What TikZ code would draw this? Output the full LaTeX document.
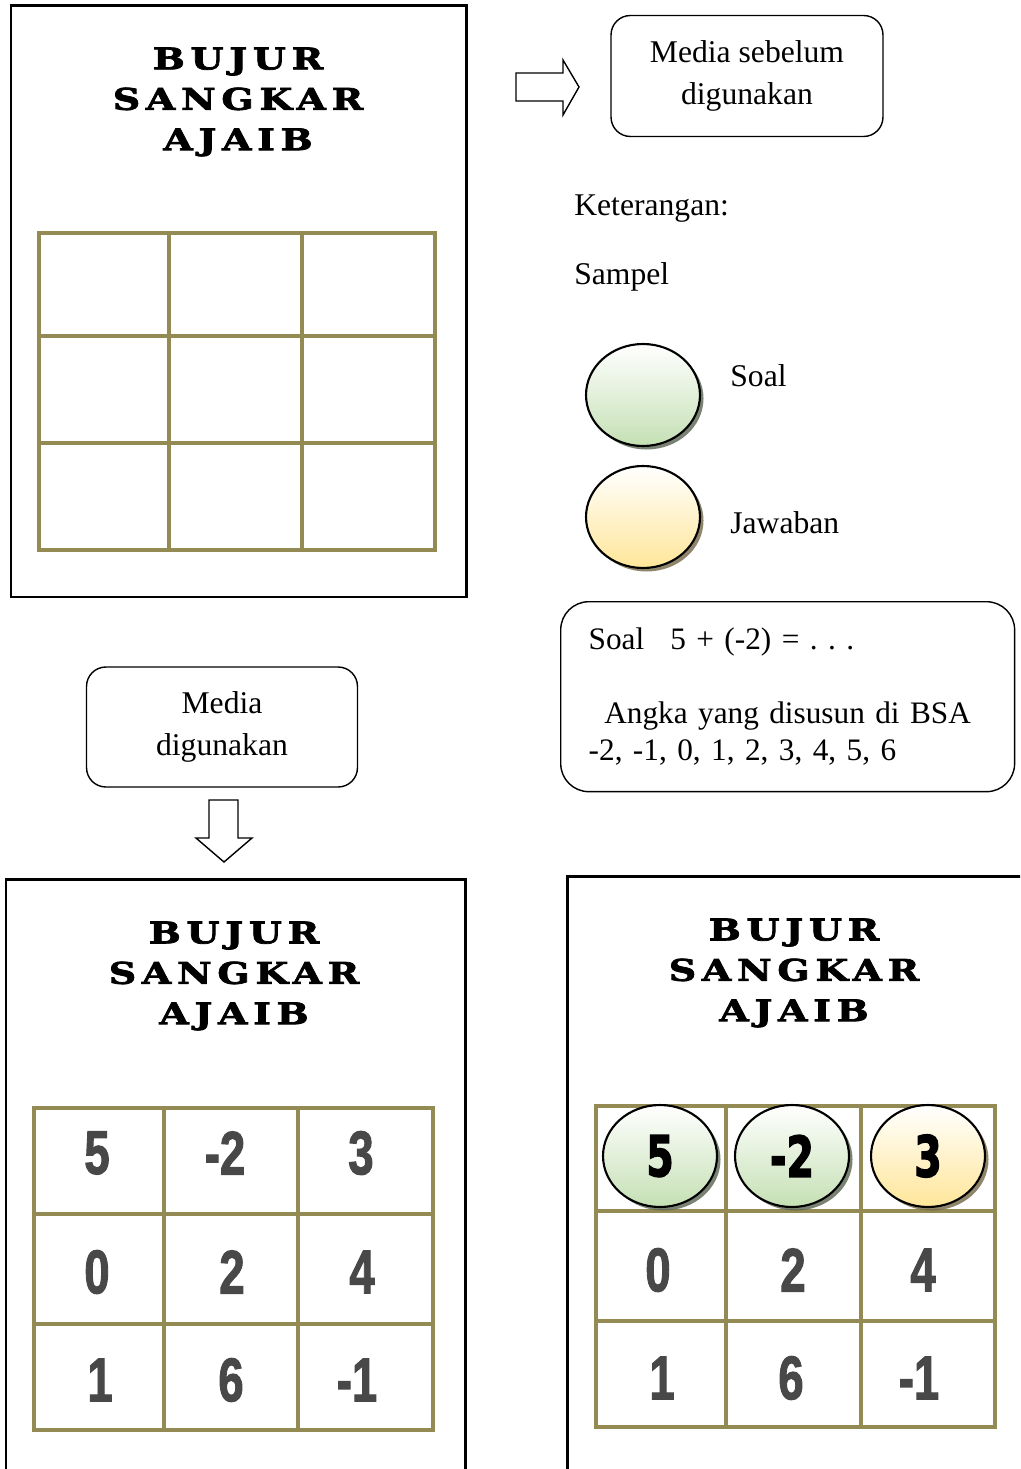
\documentclass[tikz,border=0pt]{standalone}
\usepackage{fontspec}
\usepackage{graphicx}
\setmainfont{Liberation Serif}
\newfontfamily\titlefont[LetterSpace=19, FakeStretch=1.27, FakeBold=2.5]{DejaVu Serif}
\newfontfamily\numfont[FakeBold=2]{Liberation Sans}
\newfontfamily\ballfont[FakeBold=3]{DejaVu Sans}
\usetikzlibrary{shapes.geometric,shadows}

\definecolor{gridolive}{RGB}{148,138,84}
\definecolor{soalgreen}{RGB}{197,224,180}
\definecolor{jawabyellow}{RGB}{255,230,153}
\definecolor{numgray}{RGB}{72,72,72}

\newcommand{\cellnum}[1]{\scalebox{0.74}[1]{#1}}
\newcommand{\ballnum}[1]{\scalebox{0.7}[1]{#1}}

\tikzset{
  frame/.style={line width=1.7pt},
  gridline/.style={draw=gridolive, line width=2.6pt},
  infobox/.style={draw, line width=0.8pt, rounded corners=11pt, align=center,
    font=\fontsize{18}{24}\selectfont},
  label/.style={anchor=base west, inner xsep=0pt, font=\fontsize{18}{21}\selectfont},
  bsatitle/.style={align=center, font=\titlefont\bfseries\fontsize{17}{23}\selectfont},
  num/.style={inner sep=0pt, text=numgray, font=\numfont\bfseries\fontsize{35}{35}\selectfont},
  ball/.style={ellipse, draw, line width=1.2pt, inner sep=0pt,
    minimum width=2.28cm, minimum height=2.04cm,
    font=\ballfont\bfseries\fontsize{32}{32}\selectfont},
  soalball/.style={ball, top color=white, bottom color=soalgreen,
    drop shadow={shadow xshift=2pt, shadow yshift=-2pt, opacity=.8, fill=soalgreen!45!black}},
  jawabball/.style={ball, top color=white, bottom color=jawabyellow,
    drop shadow={shadow xshift=2pt, shadow yshift=-2pt, opacity=.8, fill=jawabyellow!45!black}},
  blockarrow/.style={draw, line width=0.8pt, fill=white}
}

\begin{document}
\begin{tikzpicture}[x=0.02cm, y=-0.02cm]
  \clip (0,0) rectangle (1020,1469);
  \fill[white] (0,0) rectangle (1020,1469);

  % media sebelum digunakan
  \draw[frame] (11,6) rectangle (466,597);
  \node[bsatitle] (title1) at (238,102) {BUJUR\\SANGKAR\\AJAIB};
  \draw[gridline] (39,233) rectangle (435,550);
  \draw[gridline] (169,233) -- (169,550) (302,233) -- (302,550);
  \draw[gridline] (39,336) -- (435,336) (39,443) -- (435,443);

  \draw[blockarrow] (516,73) -- (563,73) -- (563,60) -- (579,87) -- (563,115)
    -- (563,101) -- (516,101) -- cycle;
  \node[infobox, minimum width=5.44cm, minimum height=2.42cm] (before) at (747,76)
    {Media sebelum\\digunakan};

  % keterangan
  \node[label] (ket) at (574,216) {Keterangan:};
  \node[label] (sampel) at (574,285) {Sampel};
  \node[soalball] (soal) at (643,395) {};
  \node[label] (soaltxt) at (730,386) {Soal};
  \node[jawabball] (jawab) at (643,517) {};
  \node[label] (jawabtxt) at (730,533) {Jawaban};

  \node[draw, line width=0.8pt, rounded corners=16pt, align=left, anchor=north west,
    text width=7.96cm, inner xsep=0.56cm, minimum height=3.8cm,
    font=\fontsize{17.8}{21}\selectfont] (soalbox) at (560,601)
    {Soal\enspace\ 5 + (-2) = .\ .\ .\\[21pt]
     \hspace*{0.5em}Angka yang disusun di BSA\\
     -2, -1, 0, 1, 2, 3, 4, 5, 6};

  % media digunakan
  \node[infobox, minimum width=5.42cm, minimum height=2.4cm] (after) at (222,727)
    {Media\\digunakan};
  \draw[blockarrow] (209,800) -- (238,800) -- (238,838) -- (252,838) -- (224,862)
    -- (196,838) -- (209,838) -- cycle;

  \draw[frame] (6,1480) -- (6,879) -- (465,879) -- (465,1480);
  \node[bsatitle] (title2) at (234,976) {BUJUR\\SANGKAR\\AJAIB};
  \draw[gridline] (34,1108) rectangle (433,1430);
  \draw[gridline] (164,1108) -- (164,1430) (298,1108) -- (298,1430);
  \draw[gridline] (34,1214) -- (433,1214) (34,1324) -- (433,1324);
  \node[num] (a1) at (97,1153) {\cellnum{5}};
  \node[num] (a2) at (225,1153) {\cellnum{-2}};
  \node[num] (a3) at (361,1153) {\cellnum{3}};
  \node[num] (a4) at (97,1272) {\cellnum{0}};
  \node[num] (a5) at (232,1272) {\cellnum{2}};
  \node[num] (a6) at (362,1272) {\cellnum{4}};
  \node[num] (a7) at (100,1380) {\cellnum{1}};
  \node[num] (a8) at (231,1380) {\cellnum{6}};
  \node[num] (a9) at (357,1380) {\cellnum{-1}};

  % media digunakan dengan sampel
  \draw[frame] (567,1480) -- (567,876) -- (1030,876);
  \node[bsatitle] (title3) at (794,973) {BUJUR\\SANGKAR\\AJAIB};
  \draw[gridline] (596,1106) rectangle (995,1427);
  \draw[gridline] (726,1106) -- (726,1427) (861,1106) -- (861,1427);
  \draw[gridline] (596,1211) -- (995,1211) (596,1321) -- (995,1321);
  \node[soalball] (b1) at (660,1156) {\ballnum{5}};
  \node[soalball] (b2) at (792,1156) {\ballnum{-2}};
  \node[jawabball] (b3) at (928,1156) {\ballnum{3}};
  \node[num] (b4) at (658,1270) {\cellnum{0}};
  \node[num] (b5) at (793,1270) {\cellnum{2}};
  \node[num] (b6) at (923,1270) {\cellnum{4}};
  \node[num] (b7) at (662,1378) {\cellnum{1}};
  \node[num] (b8) at (791,1378) {\cellnum{6}};
  \node[num] (b9) at (919,1378) {\cellnum{-1}};
\end{tikzpicture}
\end{document}
